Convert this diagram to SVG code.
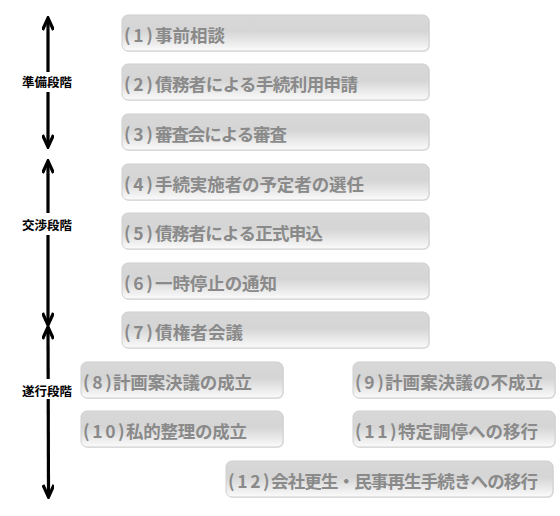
<svg xmlns="http://www.w3.org/2000/svg" width="560" height="516" viewBox="0 0 560 516">
<defs>
<linearGradient id="g" x1="0" y1="0" x2="0" y2="1">
<stop offset="0" stop-color="#d8d8d8"/>
<stop offset="0.45" stop-color="#d5d5d5"/>
<stop offset="1" stop-color="#fbfbfb"/>
</linearGradient>
<marker id="ah" viewBox="0 0 16 12" refX="14" refY="6" markerWidth="16" markerHeight="12" markerUnits="userSpaceOnUse" orient="auto-start-reverse">
<path d="M2,0.5 L14,6 L2,11.5" fill="none" stroke="#000" stroke-width="3.2" stroke-linejoin="miter"/>
</marker>
</defs>
<style>
.box{fill:url(#g);stroke:#cfcfcf;stroke-width:1}
.sh{fill:#e6e6e6}
.t{font-family:"Noto Sans CJK JP","Noto Sans CJK SC",sans-serif;font-weight:bold;font-size:17.5px;fill:#8a8a8a}
.p{letter-spacing:2.6px}
.lab{font-family:"Noto Sans CJK JP","Noto Sans CJK SC",sans-serif;font-weight:bold;font-size:12.5px;fill:#000}
.ar{stroke:#000;stroke-width:3.2;fill:none}
</style>
<rect width="560" height="516" fill="#fff"/>
<g id="connectors">
<line class="ar" x1="48" y1="18" x2="48" y2="147" marker-start="url(#ah)" marker-end="url(#ah)"/>
<line class="ar" x1="48" y1="161" x2="48" y2="325" marker-start="url(#ah)" marker-end="url(#ah)"/>
<line class="ar" x1="48" y1="327" x2="48.5" y2="497" marker-start="url(#ah)" marker-end="url(#ah)"/>
</g>
<g id="phase1"><rect x="20" y="72" width="56" height="20" fill="#fff"/><text class="lab" x="22" y="87">準備段階</text></g>
<g id="phase2"><rect x="20" y="213" width="56" height="22" fill="#fff"/><text class="lab" x="22" y="230">交渉段階</text></g>
<g id="phase3"><rect x="20" y="379" width="56" height="20" fill="#fff"/><text class="lab" x="22" y="396">遂行段階</text></g>
<g id="n1"><rect class="sh" x="123" y="16" width="307" height="36" rx="6"/><rect class="box" x="122" y="15" width="307" height="36" rx="6"/><text class="t" x="124" y="41.5"><tspan class="p">(1)</tspan><tspan x="155" textLength="70" lengthAdjust="spacing">事前相談</tspan></text></g>
<g id="n2"><rect class="sh" x="123" y="65" width="307" height="36" rx="6"/><rect class="box" x="122" y="64" width="307" height="36" rx="6"/><text class="t" x="124" y="90.5"><tspan class="p">(2)</tspan><tspan x="155" textLength="203" lengthAdjust="spacing">債務者による手続利用申請</tspan></text></g>
<g id="n3"><rect class="sh" x="123" y="115" width="307" height="36" rx="6"/><rect class="box" x="122" y="114" width="307" height="36" rx="6"/><text class="t" x="124" y="140.5"><tspan class="p">(3)</tspan><tspan x="155" textLength="132" lengthAdjust="spacing">審査会による審査</tspan></text></g>
<g id="n4"><rect class="sh" x="123" y="165" width="307" height="36" rx="6"/><rect class="box" x="122" y="164" width="307" height="36" rx="6"/><text class="t" x="124" y="190.5"><tspan class="p">(4)</tspan><tspan x="155" textLength="209" lengthAdjust="spacing">手続実施者の予定者の選任</tspan></text></g>
<g id="n5"><rect class="sh" x="123" y="214" width="307" height="36" rx="6"/><rect class="box" x="122" y="213" width="307" height="36" rx="6"/><text class="t" x="124" y="239.5"><tspan class="p">(5)</tspan><tspan x="155" textLength="168" lengthAdjust="spacing">債務者による正式申込</tspan></text></g>
<g id="n6"><rect class="sh" x="123" y="264" width="307" height="36" rx="6"/><rect class="box" x="122" y="263" width="307" height="36" rx="6"/><text class="t" x="124" y="289.5"><tspan class="p">(6)</tspan><tspan x="155" textLength="122" lengthAdjust="spacing">一時停止の通知</tspan></text></g>
<g id="n7"><rect class="sh" x="123" y="313" width="307" height="36" rx="6"/><rect class="box" x="122" y="312" width="307" height="36" rx="6"/><text class="t" x="124" y="338.5"><tspan class="p">(7)</tspan><tspan x="155" textLength="88" lengthAdjust="spacing">債権者会議</tspan></text></g>
<g id="n8"><rect class="sh" x="82" y="363" width="202" height="36" rx="6"/><rect class="box" x="81" y="362" width="202" height="36" rx="6"/><text class="t" x="83" y="388.5"><tspan class="p">(8)</tspan><tspan x="113" textLength="139" lengthAdjust="spacing">計画案決議の成立</tspan></text></g>
<g id="n9"><rect class="sh" x="354" y="363" width="202" height="36" rx="6"/><rect class="box" x="353" y="362" width="202" height="36" rx="6"/><text class="t" x="355" y="388.5"><tspan class="p">(9)</tspan><tspan x="385" textLength="158" lengthAdjust="spacing">計画案決議の不成立</tspan></text></g>
<g id="n10"><rect class="sh" x="82" y="412" width="202" height="36" rx="6"/><rect class="box" x="81" y="411" width="202" height="36" rx="6"/><text class="t" x="83" y="437.5"><tspan class="p">(10)</tspan><tspan x="126" textLength="121" lengthAdjust="spacing">私的整理の成立</tspan></text></g>
<g id="n11"><rect class="sh" x="354" y="412" width="202" height="36" rx="6"/><rect class="box" x="353" y="411" width="202" height="36" rx="6"/><text class="t" x="355" y="437.5"><tspan class="p">(11)</tspan><tspan x="398" textLength="140" lengthAdjust="spacing">特定調停への移行</tspan></text></g>
<g id="n12"><rect class="sh" x="227" y="462" width="327" height="36" rx="6"/><rect class="box" x="226" y="461" width="327" height="36" rx="6"/><text class="t" x="228" y="487.5"><tspan class="p">(12)</tspan><tspan x="271" textLength="267" lengthAdjust="spacing">会社更生・民事再生手続きへの移行</tspan></text></g>
</svg>
